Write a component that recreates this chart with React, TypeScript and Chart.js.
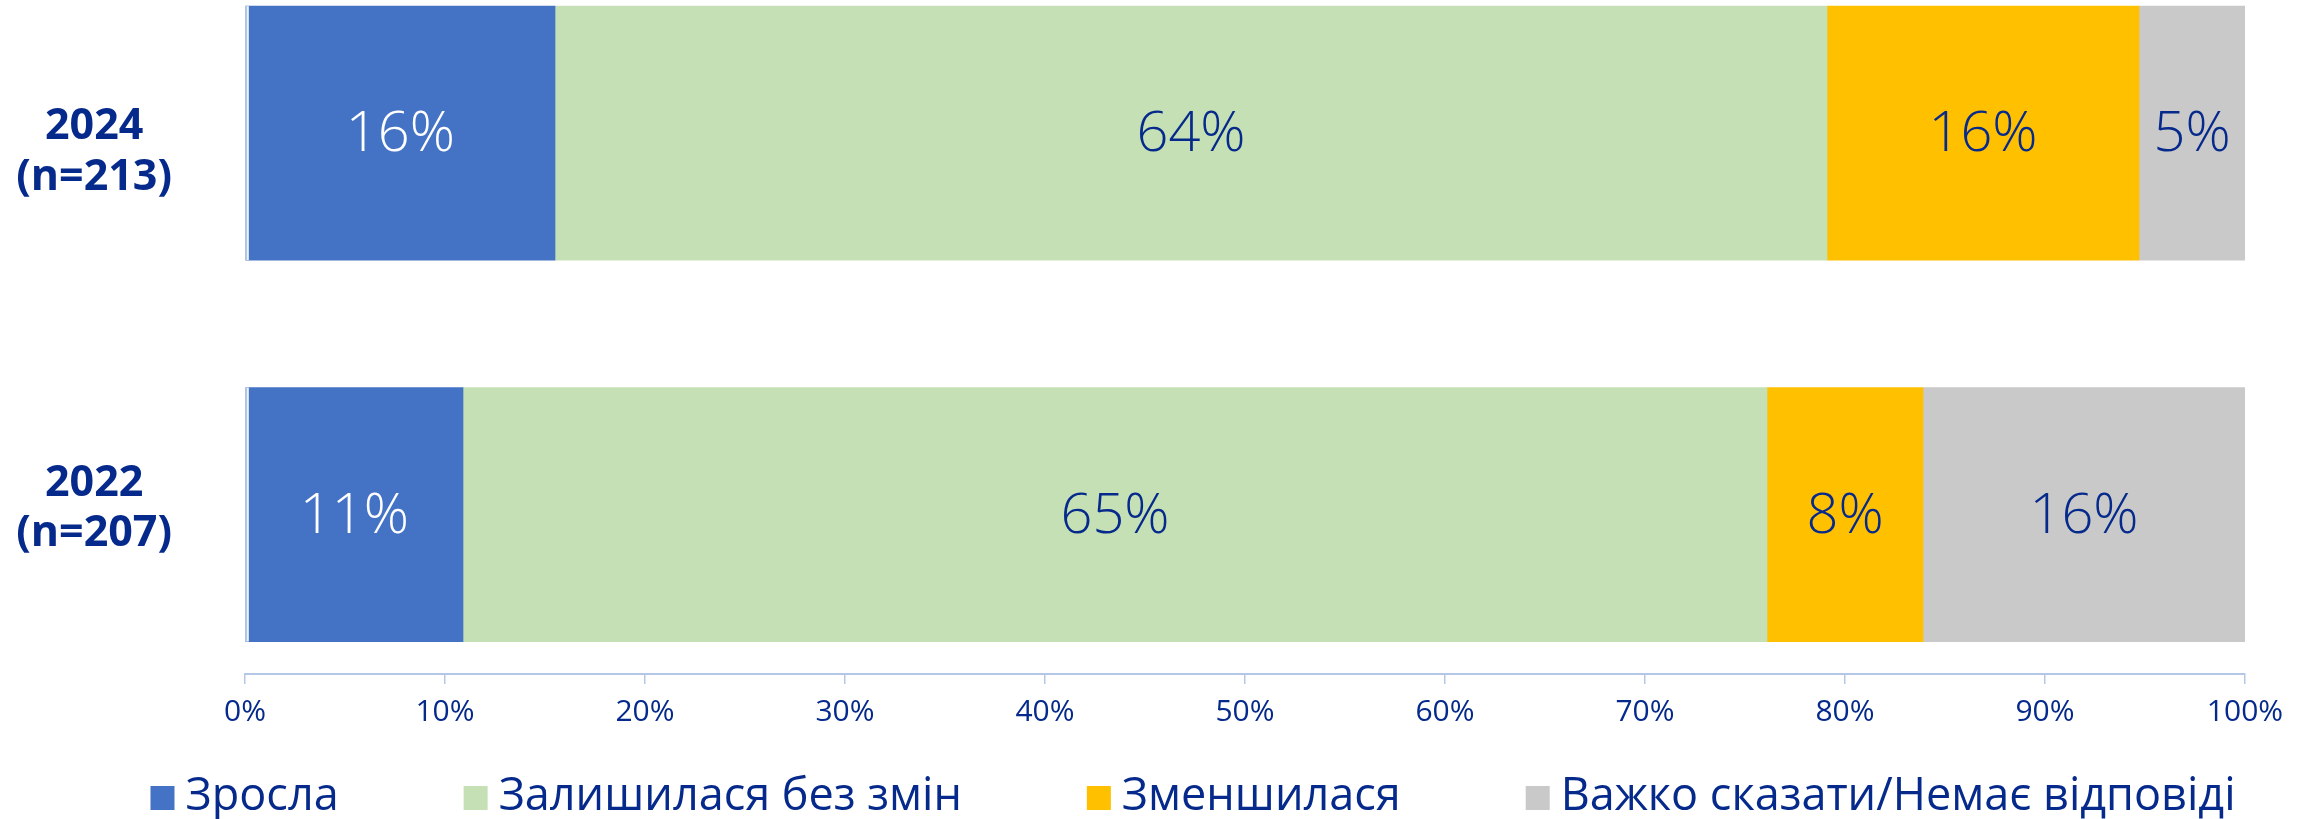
import React, { useEffect, useRef } from 'react';
import { Chart, registerables } from 'chart.js';

Chart.register(...registerables);

// ---- data ----
const categories: string[][] = [['2024', '(n=213)'], ['2022', '(n=207)']];
const seriesNames = ['Зросла', 'Залишилася без змін', 'Зменшилася', 'Важко сказати/Немає відповіді'];
const increased = [15.5, 10.9];
const unchanged = [63.6, 65.2];
const decreased = [15.6, 7.8];
const hardToSay = [5.3, 16.1];
const xTicks = [0, 10, 20, 30, 40, 50, 60, 70, 80, 90, 100];

// ---- styles ----
const seriesColors = ['#4472C4', '#C5E0B4', '#FFC000', '#C9C9C9'];
const NAVY = '#062A8C';
const labelColors = ['#FFFFFF', NAVY, NAVY, NAVY];
const AXIS = '#B4C7E7';
const FONT = '"Open Sans", "Noto Sans", sans-serif';
// small vertical nudges of the category labels (axis units), as in the original layout
const labelNudge = [0.05, -0.015];

const series = [increased, unchanged, decreased, hardToSay];

function buildDatasets() {
  const running = categories.map(() => 0);
  return series.map((vals, d) => {
    const data = vals.map((v, i) => {
      const start = running[i];
      running[i] = start + v;
      return { x: [start, start + v], y: i };
    });
    return {
      label: seriesNames[d],
      data,
      backgroundColor: seriesColors[d],
      borderWidth: 0,
      grouped: false,
      barPercentage: 1,
      categoryPercentage: 1,
      maxBarThickness: 254,
    };
  });
}

const edgePlugin = {
  id: 'edgeLine',
  afterDatasetsDraw(chart: any) {
    const ctx = chart.ctx;
    const meta = chart.getDatasetMeta(0);
    meta.data.forEach((el: any) => {
      const p = el.getProps(['base', 'y', 'height'], true);
      const top = p.y - p.height / 2;
      ctx.save();
      ctx.fillStyle = '#FFFFFF';
      ctx.fillRect(p.base, top, 3, p.height);
      ctx.fillStyle = AXIS;
      ctx.fillRect(p.base, top, 1.5, p.height);
      ctx.restore();
    });
  },
};

const valueLabelPlugin = {
  id: 'valueLabels',
  afterDatasetsDraw(chart: any) {
    const ctx = chart.ctx;
    ctx.save();
    ctx.font = `300 56px ${FONT}`;
    ctx.textAlign = 'center';
    ctx.textBaseline = 'middle';
    series.forEach((vals, d) => {
      const meta = chart.getDatasetMeta(d);
      meta.data.forEach((el: any, i: number) => {
        const c = el.getCenterPoint();
        ctx.fillStyle = labelColors[d];
        ctx.fillText(Math.round(vals[i]) + '%', c.x, c.y + 2);
      });
    });
    ctx.restore();
  },
};

const legendPlugin = {
  id: 'customLegend',
  afterDraw(chart: any) {
    const ctx = chart.ctx;
    const box = 24;
    const textGap = 11;
    const itemGap = 125;
    const centerX = 1193;
    const cy = 797;
    ctx.save();
    ctx.font = `400 45px ${FONT}`;
    ctx.textBaseline = 'middle';
    ctx.textAlign = 'left';
    const widths = seriesNames.map((n) => ctx.measureText(n).width);
    const total = widths.reduce((a, w) => a + box + textGap + w, 0) + itemGap * (seriesNames.length - 1);
    let x = centerX - total / 2;
    seriesNames.forEach((n, i) => {
      ctx.fillStyle = seriesColors[i];
      ctx.fillRect(x, cy - box / 2 + 1, box, box);
      x += box + textGap;
      ctx.fillStyle = NAVY;
      ctx.fillText(n, x, cy);
      x += widths[i] + itemGap;
    });
    ctx.restore();
  },
};

export default function App() {
  const ref = useRef<HTMLCanvasElement | null>(null);
  useEffect(() => {
    if (!ref.current) return;
    const chart = new Chart(ref.current, {
      type: 'bar',
      data: { datasets: buildDatasets() as any },
      options: {
        indexAxis: 'y',
        animation: false,
        responsive: true,
        maintainAspectRatio: false,
        events: [],
        layout: { padding: { left: 0, right: 65, top: 0, bottom: 89 } },
        plugins: {
          legend: { display: false },
          tooltip: { enabled: false },
          title: { display: false },
        },
        scales: {
          x: {
            type: 'linear',
            min: 0,
            max: 100,
            afterBuildTicks: (scale: any) => {
              scale.ticks = xTicks.map((v) => ({ value: v }));
            },
            afterFit: (scale: any) => {
              scale.height = 56;
            },
            ticks: {
              autoSkip: false,
              maxRotation: 0,
              padding: 10,
              color: NAVY,
              font: { family: FONT, size: 30, weight: '400' as any },
              callback: (v: any) => v + '%',
            },
            grid: {
              drawOnChartArea: false,
              drawTicks: true,
              tickLength: 10,
              color: AXIS,
              lineWidth: 1.5,
            },
            border: { display: true, color: AXIS, width: 2 },
          },
          y: {
            type: 'linear',
            reverse: true,
            offset: false,
            bounds: 'data',
            min: -0.349,
            max: 1.418,
            afterBuildTicks: (scale: any) => {
              scale.ticks = categories.map((_, i) => ({ value: i + labelNudge[i] }));
            },
            afterFit: (scale: any) => {
              scale.width = 245;
              scale.paddingTop = 0;
              scale.paddingBottom = 0;
            },
            ticks: {
              autoSkip: false,
              crossAlign: 'center',
              padding: 73,
              color: NAVY,
              font: { family: FONT, size: 43, weight: 'bold', lineHeight: 1.18 },
              callback: (_v: any, index: number) => categories[index] ?? '',
            },
            grid: { display: false, drawTicks: false, offset: false },
            border: { display: false },
          },
        },
      },
      plugins: [edgePlugin, valueLabelPlugin, legendPlugin],
    });
    return () => chart.destroy();
  }, []);
  return (
    <div style={{ position: 'fixed', left: 0, top: 0, width: 2310, height: 819 }}>
      <canvas ref={ref} />
    </div>
  );
}
